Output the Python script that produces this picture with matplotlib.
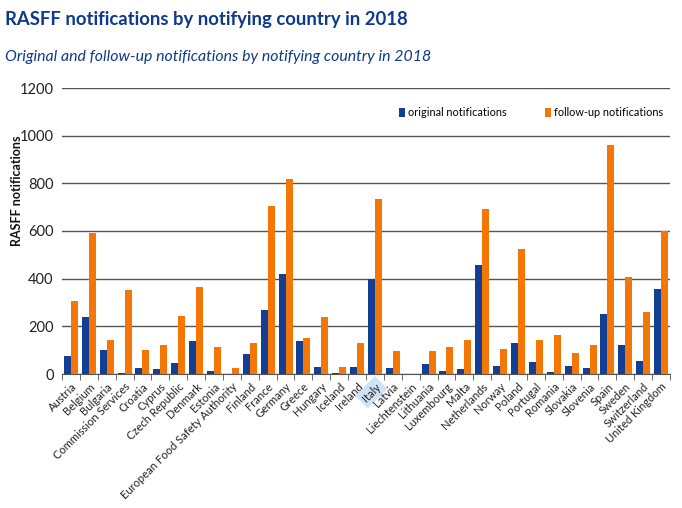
import matplotlib
matplotlib.use("Agg")
import matplotlib.pyplot as plt
import numpy as np

countries = ["Austria","Belgium","Bulgaria","Commission Services","Croatia","Cyprus","Czech Republic","Denmark","Estonia","European Food Safety Authority","Finland","France","Germany","Greece","Hungary","Iceland","Ireland","Italy","Latvia","Liechtenstein","Lithuania","Luxembourg","Malta","Netherlands","Norway","Poland","Portugal","Romania","Slovakia","Slovenia","Spain","Sweden","Switzerland","United Kingdom"]
original = [75,240,100,3,25,20,47,137,14,0,85,268,420,137,30,3,30,398,25,0,40,13,22,457,35,130,52,10,33,27,250,120,55,355]
followup = [308,590,142,352,100,120,243,365,113,27,130,705,818,150,240,30,128,733,95,0,97,112,142,693,105,525,142,165,87,122,962,405,262,600]
yticks = [0,200,400,600,800,1000,1200]

W, H = 682, 508
plt.rcParams['font.family'] = ['Lato', 'DejaVu Sans']
fig = plt.figure(figsize=(W/100, H/100), dpi=100)
ax = fig.add_axes([62/W, 1-374/H, (670-62)/W, (374-88)/H])
BLUE, ORANGE, NAVY = '#123f94', '#f37606', '#0f3a8c'
x = np.arange(len(countries))
w = 0.39
ax.bar(x-w/2, original, w, color=BLUE, zorder=3, label='original notifications')
ax.bar(x+w/2, followup, w, color=ORANGE, zorder=3, label='follow-up notifications')
ax.set_xlim(-0.5, len(countries)-0.5)
ax.set_ylim(0, 1200)
ax.set_yticks(yticks)
ax.tick_params(axis='y', length=0, labelsize=10.5, pad=6, colors='#222222')
ax.yaxis.grid(True, color='#555555', lw=1.0, zorder=1)
ax.set_axisbelow(True)
for s in ['top','right','left']:
    ax.spines[s].set_visible(False)
ax.spines['bottom'].set_color('#555555')
ax.set_xticks(np.arange(len(countries)+1)-0.5, minor=True)
ax.tick_params(axis='x', which='minor', length=4, color='#555555')
ax.set_xticks(x)
ax.set_xticklabels(countries, rotation=45, ha='right', va='top', rotation_mode='anchor', fontsize=8.0, color='#222222')
ax.tick_params(axis='x', which='major', length=0, pad=5)
for lab in ax.get_xticklabels():
    if lab.get_text() == 'Italy':
        lab.set_bbox(dict(facecolor='#cfe3f7', edgecolor='none', pad=2.5))
fig.text(17/W, 1-191/H, 'RASFF notifications', fontsize=9, fontweight='bold', rotation=90, ha='center', va='center', color='#111111')

ax.legend(loc='center right', bbox_to_anchor=((663-62)/608, 1-(113-88)/286), ncol=2, frameon=False, fontsize=7.8,
          handlelength=0.55, handleheight=0.9, handletextpad=0.28, columnspacing=3.5, borderpad=0, borderaxespad=0)

fig.text(5/W, 1-20/H, 'RASFF notifications by notifying country in 2018', fontsize=13.3, fontweight='bold', color=NAVY, va='center')
fig.text(5/W, 1-57/H, 'Original and follow-up notifications by notifying country in 2018', fontsize=11.4, style='italic', color=NAVY, va='center')
fig.savefig('out.png', dpi=100)
